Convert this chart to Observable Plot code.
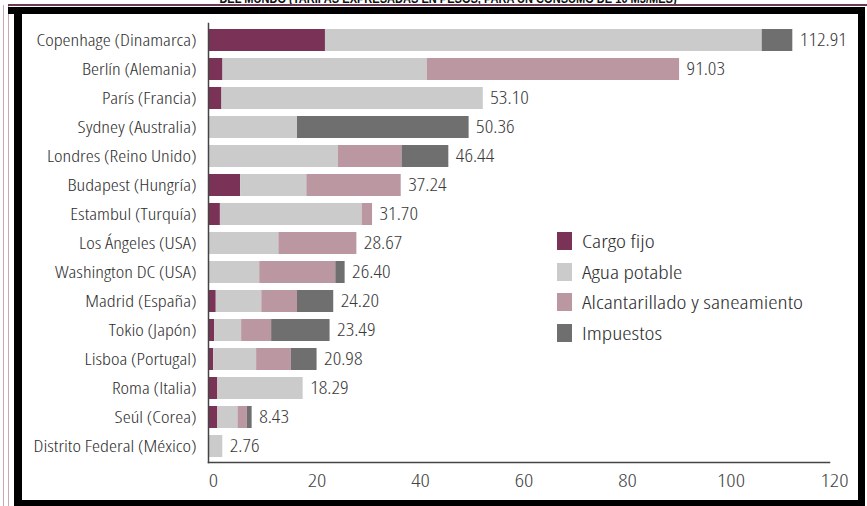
<!DOCTYPE html>
<html>
<head>
<meta charset="utf-8">
<script src="https://cdn.jsdelivr.net/npm/d3@7"></script>
<script src="https://cdn.jsdelivr.net/npm/@observablehq/plot@0.6"></script>
<style>
  html, body { margin: 0; padding: 0; background: #fff; }
  #wrap { position: relative; width: 867px; height: 506px; overflow: hidden; background: #fff; }
  #chart { position: absolute; left: 0; top: 0; }
  .band { position: absolute; background: #000; pointer-events: none; }
  .thin { position: absolute; pointer-events: none; }
  #title { position: absolute; left: 0; top: 0; width: 867px; height: 4px; overflow: hidden; }
  #title span { position: absolute; left: 448px; top: -8px; transform: translateX(-50%) scaleX(0.92); white-space: nowrap; font: bold 12px "Liberation Sans", Arial, sans-serif; color: #111; }
  #legend { position: absolute; left: 557px; top: 226px; font-family: "Open Sans", sans-serif; font-stretch: semi-condensed; font-weight: 300; font-size: 19px; color: #2e2e2e; }
  #legend .item { display: flex; align-items: center; height: 30.5px; }
  #legend .sw { width: 15px; height: 18px; margin-right: 10px; flex: none; }
  #legend span { display: inline-block; transform-origin: left center; white-space: nowrap; }
</style>
</head>
<body>
<div id="wrap">
  <div id="chart"></div>
  <div id="legend"></div>
  <div class="thin" style="left:3px;top:5px;width:1px;height:501px;background:#c9a7b4"></div>
  <div class="thin" style="left:8px;top:5px;width:1px;height:501px;background:#c9a7b4"></div>
  <div class="thin" style="left:8px;top:4px;width:859px;height:2px;background:#6b3a52"></div>
  <div class="band" style="left:8px;top:7px;width:857px;height:7px"></div>
  <div class="band" style="left:14px;top:7px;width:8px;height:499px"></div>
  <div class="band" style="left:858px;top:7px;width:7px;height:499px"></div>
  <div class="band" style="left:14px;top:500px;width:851px;height:6px"></div>
  <div id="title"><span>DEL MUNDO (TARIFAS EXPRESADAS EN PESOS, PARA UN CONSUMO DE 10 M3/MES)</span></div>
</div>
<script>
const cities = [
  "Copenhage (Dinamarca)", "Berlín (Alemania)", "París (Francia)", "Sydney (Australia)",
  "Londres (Reino Unido)", "Budapest (Hungría)", "Estambul (Turquía)", "Los Ángeles (USA)",
  "Washington DC (USA)", "Madrid (España)", "Tokio (Japón)", "Lisboa (Portugal)",
  "Roma (Italia)", "Seúl (Corea)", "Distrito Federal (México)"
];
const components = ["Cargo fijo", "Agua potable", "Alcantarillado y saneamiento", "Impuestos"];
const componentColors = ["#7a3357", "#cbcbcb", "#bb97a2", "#6f6f6f"];
const cargoFijo      = [22.6, 2.8, 2.6, 0, 0, 6.2, 2.3, 0, 0, 1.5, 1.2, 1.0, 1.8, 1.8, 0];
const aguaPotable    = [84.4, 39.5, 50.5, 17.2, 25.1, 12.8, 27.4, 13.6, 9.9, 8.8, 5.2, 8.3, 16.49, 3.9, 2.76];
const alcantarillado = [0, 48.73, 0, 0, 12.3, 18.24, 2.0, 15.07, 14.7, 6.9, 5.8, 6.7, 0, 1.8, 0];
const impuestos      = [5.91, 0, 0, 33.16, 9.04, 0, 0, 0, 1.8, 7.0, 11.29, 4.98, 0, 0.93, 0];
const totals         = [112.91, 91.03, 53.10, 50.36, 46.44, 37.24, 31.70, 28.67, 26.40, 24.20, 23.49, 20.98, 18.29, 8.43, 2.76];
const xTicks = [0, 20, 40, 60, 80, 100, 120];

const seriesValues = [cargoFijo, aguaPotable, alcantarillado, impuestos];
const rows = cities.flatMap((city, i) => components.map((comp, k) => ({city, comp, value: seriesValues[k][i]})));
const totalRows = cities.map((city, i) => ({city, total: totals[i]}));

const FONT = '"Open Sans", sans-serif';

const chart = Plot.plot({
  width: 867,
  height: 506,
  marginLeft: 208,
  marginRight: 38,
  marginTop: 23,
  marginBottom: 44,
  style: {fontFamily: FONT, background: "transparent", fontStretch: "semi-condensed", fontWeight: 300},
  x: {domain: [0, 120]},
  y: {domain: cities, paddingInner: 0.25, paddingOuter: 0.1},
  color: {domain: components, range: componentColors},
  marks: [
    Plot.barX(rows, {x: "value", y: "city", fill: "comp"}),
    Plot.text(totalRows, {x: "total", y: "city", text: d => d.total.toFixed(2), textAnchor: "start", dx: 7, fontSize: 18, fill: "#3a3a3a"}),
    Plot.axisX({ticks: xTicks, tickSize: 0, tickPadding: 12, label: null, fontSize: 18, fill: "#444", dx: 5}),
    Plot.axisY({tickSize: 0, tickPadding: 12, label: null, fontSize: 16.5, fill: "#2e2e2e"}),
    Plot.frame({anchor: "left", stroke: "#444", strokeWidth: 1.5}),
    Plot.frame({anchor: "bottom", stroke: "#444", strokeWidth: 1.5})
  ]
});
document.getElementById("chart").appendChild(chart);

// fit the text to the narrow face of the reference
function fitWidth(selector, refText, refWidth) {
  const nodes = Array.from(chart.querySelectorAll(selector));
  const ref = nodes.find(n => n.textContent === refText);
  if (!ref) return;
  const k = refWidth / ref.getComputedTextLength();
  nodes.forEach(n => {
    const w = n.getComputedTextLength();
    n.setAttribute("textLength", (w * k).toFixed(2));
    n.setAttribute("lengthAdjust", "spacingAndGlyphs");
  });
}
fitWidth('g[aria-label="y-axis tick label"] text', "Copenhage (Dinamarca)", 160);
fitWidth('g[aria-label="text"] text', "112.91", 47);
fitWidth('g[aria-label="x-axis tick label"] text', "120", 28);

const legend = document.getElementById("legend");
const spans = [];
components.forEach((c, i) => {
  const item = document.createElement("div");
  item.className = "item";
  const sw = document.createElement("div");
  sw.className = "sw";
  sw.style.background = componentColors[i];
  const t = document.createElement("span");
  t.textContent = c;
  item.appendChild(sw);
  item.appendChild(t);
  legend.appendChild(item);
  spans.push(t);
});
const kl = 221 / spans[2].getBoundingClientRect().width;
spans.forEach(s => { s.style.transform = `scaleX(${kl})`; });
</script>
</body>
</html>
